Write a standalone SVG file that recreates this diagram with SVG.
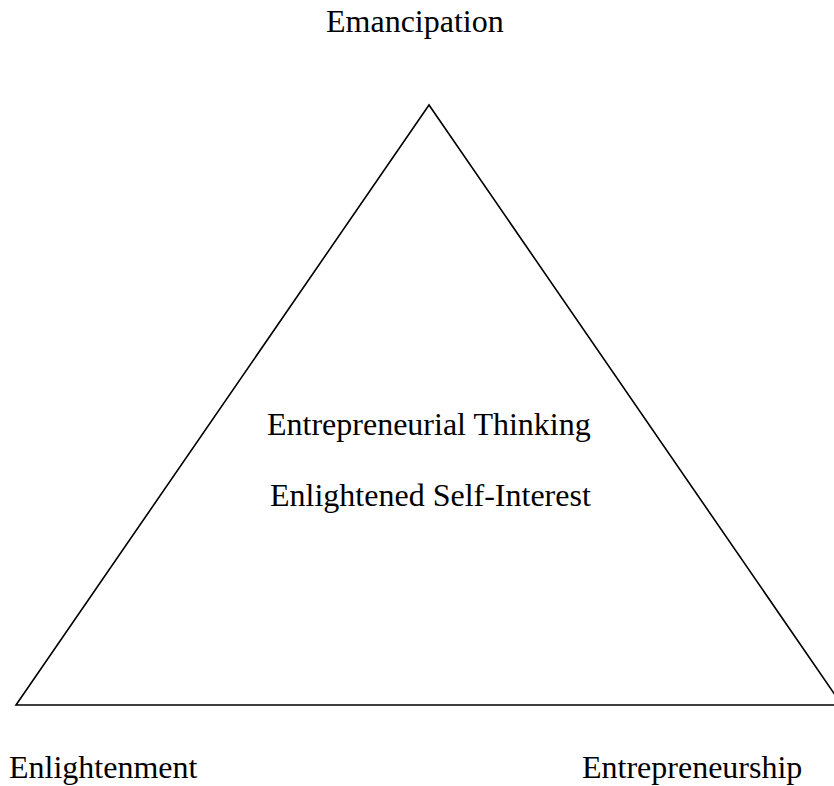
<svg xmlns="http://www.w3.org/2000/svg" width="834" height="786" viewBox="0 0 834 786">
<style>
.t{font-family:"Liberation Serif","Times New Roman",serif;font-size:32px;fill:#000}
.e{fill:none;stroke:#000;stroke-width:1.6}
</style>
<rect width="834" height="786" fill="#fff"/>
<g id="connectors">
<polygon class="e" points="429,105 16,705 842,705"/>
</g>
<g id="emancipation"><text class="t" x="326" y="32">Emancipation</text></g>
<g id="center"><text class="t" x="267" y="435">Entrepreneurial Thinking</text><text class="t" x="270" y="506">Enlightened Self-Interest</text></g>
<g id="enlightenment"><text class="t" x="9" y="778">Enlightenment</text></g>
<g id="entrepreneurship"><text class="t" x="582" y="778">Entrepreneurship</text></g>
</svg>
